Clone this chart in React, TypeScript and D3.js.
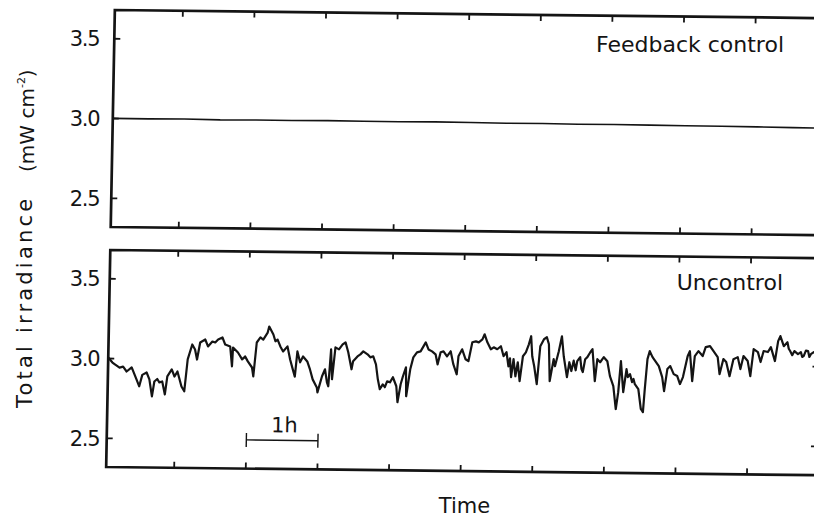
import React from "react";
import * as d3 from "d3";

// Canvas
const WIDTH = 814;
const HEIGHT = 517;

// Time axis (hours). The recording starts a little after an hour mark.
const RECORD_START_H = 0.05;
const FRAME_END_H = 9.97;
const hourTicks = [1, 2, 3, 4, 5, 6, 7, 8, 9];
const scaleBarHours: [number, number] = [2, 3];
const scaleBarValue = 2.5;
const scaleBarLabel = "1h";

// Irradiance axis (mW cm^-2)
const valueDomain: [number, number] = [2.32, 3.68];
const valueTicks = [2.5, 3.0, 3.5];
const valueTickLabels = ["2.5", "3.0", "3.5"];

// Panel titles
const panelTitles = ["Feedback control", "Uncontrol"];
const xTitle = "Time";

// Feedback-controlled irradiance, hours since start of record
const feedbackHours = [0, 0.5, 1, 1.5, 2, 2.5, 3, 3.5, 4, 4.5, 5, 5.5, 6, 6.5, 7, 7.5, 8, 8.5, 9, 9.5, 9.95];
const feedbackValues = [
  3.001, 3.0, 3.002, 2.999, 3.001, 3.0, 3.002, 3.001, 3.0, 3.002, 3.001,
  2.999, 3.0, 2.998, 2.999, 2.997, 2.996, 2.995, 2.994, 2.992, 2.991,
];

// Uncontrolled irradiance: [hours since start of record, mW cm^-2]
const uncontrolled: [number, number][] = [
  [0.0, 3.006], [0.06, 2.975], [0.1, 2.962], [0.16, 2.944], [0.21, 2.95], [0.26, 2.92], [0.33, 2.946], [0.4, 2.871],
  [0.44, 2.828], [0.48, 2.9], [0.54, 2.915], [0.58, 2.872], [0.62, 2.766], [0.65, 2.859],
  [0.69, 2.875], [0.72, 2.854], [0.76, 2.86], [0.8, 2.779], [0.83, 2.892], [0.89, 2.936], [0.93, 2.892],
  [0.97, 2.924], [1.03, 2.83], [1.07, 2.8], [1.11, 3.0], [1.17, 3.094], [1.21, 3.063],
  [1.24, 3.0], [1.28, 3.107], [1.35, 3.126], [1.39, 3.083], [1.45, 3.114], [1.49, 3.108],
  [1.53, 3.127], [1.59, 3.14], [1.63, 3.096], [1.7, 3.084], [1.73, 2.96], [1.74, 3.078],
  [1.81, 3.047], [1.87, 3.004], [1.91, 3.023], [1.95, 2.992], [2.01, 2.954], [2.03, 2.899],
  [2.07, 3.111], [2.12, 3.143], [2.16, 3.13], [2.22, 3.174], [2.24, 3.212], [2.3, 3.162],
  [2.33, 3.12], [2.36, 3.131], [2.4, 3.088], [2.44, 3.057], [2.5, 3.089], [2.54, 3.007], [2.58, 2.945],
  [2.61, 2.9], [2.64, 3.058], [2.68, 2.99], [2.72, 3.027], [2.78, 2.996], [2.82, 2.946],
  [2.86, 2.884], [2.92, 2.834], [2.93, 2.803], [2.99, 2.904], [3.03, 2.948], [3.06, 2.866],
  [3.08, 2.842], [3.11, 3.073], [3.13, 2.886], [3.17, 3.086], [3.22, 3.074], [3.27, 3.105],
  [3.31, 3.118], [3.35, 3.056], [3.4, 2.95], [3.42, 3.0], [3.48, 3.031], [3.52, 3.044],
  [3.56, 3.063], [3.62, 3.045], [3.66, 3.026], [3.7, 3.033], [3.74, 2.983], [3.77, 2.889],
  [3.8, 2.827], [3.84, 2.858], [3.87, 2.84], [3.9, 2.877], [3.94, 2.871], [3.98, 2.903], [4.03, 2.847],
  [4.05, 2.747], [4.09, 2.86], [4.12, 2.91], [4.16, 2.966], [4.17, 2.785], [4.22, 2.954],
  [4.26, 3.029], [4.31, 3.061], [4.36, 3.067], [4.43, 3.124], [4.47, 3.08], [4.52, 3.068],
  [4.57, 3.05], [4.6, 2.987], [4.64, 3.063], [4.68, 3.069], [4.73, 3.038], [4.78, 3.07],
  [4.82, 2.989], [4.87, 2.926], [4.89, 3.039], [4.94, 3.083], [4.99, 3.021], [5.03, 3.009],
  [5.08, 3.128], [5.13, 3.134], [5.17, 3.128], [5.22, 3.147], [5.25, 3.179], [5.29, 3.129],
  [5.34, 3.085], [5.38, 3.098], [5.43, 3.086], [5.48, 3.105], [5.52, 3.043], [5.56, 3.068],
  [5.59, 2.98], [5.61, 3.03], [5.63, 2.912], [5.66, 3.025], [5.69, 2.918], [5.72, 3.006], [5.75, 2.888],
  [5.79, 3.044], [5.83, 3.069], [5.87, 3.119], [5.9, 3.17], [5.92, 3.045], [5.95, 2.982],
  [5.99, 2.87], [6.03, 3.108], [6.08, 3.152], [6.12, 3.165], [6.15, 3.121], [6.17, 2.89],
  [6.22, 3.028], [6.24, 2.984], [6.29, 3.078], [6.33, 3.172], [6.36, 3.047], [6.41, 2.916],
  [6.44, 3.01], [6.47, 2.955], [6.5, 3.02], [6.53, 2.96], [6.55, 3.017], [6.59, 3.042], [6.61, 2.97],
  [6.63, 2.949], [6.66, 3.03], [6.69, 3.043],
  [6.73, 3.074], [6.76, 3.093], [6.8, 2.893], [6.83, 3.031], [6.87, 3.012], [6.92, 3.044],
  [6.97, 3.019], [7.01, 2.926], [7.06, 2.863], [7.1, 2.72], [7.13, 2.826], [7.16, 3.02],
  [7.2, 2.827], [7.24, 2.971], [7.26, 2.921], [7.29, 2.94], [7.32, 2.89], [7.34, 2.91], [7.36, 2.877], [7.41, 2.846],
  [7.45, 2.722], [7.48, 2.703], [7.5, 2.847], [7.53, 3.035], [7.56, 3.085], [7.6, 3.048],
  [7.65, 3.017], [7.69, 2.992], [7.74, 2.923], [7.77, 2.836], [7.81, 2.974], [7.85, 2.993],
  [7.9, 2.943], [7.95, 2.931], [7.99, 2.881], [8.03, 2.925], [8.09, 3.056], [8.12, 3.088],
  [8.16, 2.9], [8.19, 3.057], [8.24, 3.089], [8.3, 3.058], [8.34, 3.114], [8.4, 3.121],
  [8.45, 3.09], [8.51, 3.053], [8.54, 2.946], [8.59, 3.041], [8.63, 3.022], [8.68, 2.934],
  [8.73, 3.041], [8.79, 3.054], [8.83, 2.979], [8.87, 3.061], [8.93, 3.03], [8.97, 2.936],
  [9.01, 3.105], [9.07, 3.087], [9.11, 3.025], [9.15, 3.094], [9.21, 3.088], [9.25, 3.119],
  [9.31, 3.032], [9.35, 3.157], [9.38, 3.189], [9.43, 3.126], [9.48, 3.151], [9.5, 3.11], [9.52, 3.096],
  [9.55, 3.07], [9.58, 3.096], [9.63, 3.077], [9.67, 3.09], [9.69, 3.06], [9.71, 3.065], [9.74, 3.1], [9.77, 3.097],
  [9.79, 3.06], [9.81, 3.078], [9.85, 3.091], [9.9, 3.07], [9.95, 3.08],
];

const FONT = "'DejaVu Sans', sans-serif";
const INK = "#141414";

export default function App() {
  const x = d3.scaleLinear().domain([0, 10]).range([106.9, 822.9]);
  const panels = [
    { top: 10, bottom: 227 },
    { top: 250, bottom: 467 },
  ].map((p) => ({ ...p, y: d3.scaleLinear().domain(valueDomain).range([p.bottom, p.top]) }));

  const x0 = x(RECORD_START_H);
  const x1 = x(FRAME_END_H);

  const feedbackLine = d3
    .line<number>()
    .x((_, i) => x(feedbackHours[i] + RECORD_START_H))
    .y((d) => panels[0].y(d));

  const rawLine = d3
    .line<[number, number]>()
    .x((d) => x(d[0] + RECORD_START_H))
    .y((d) => panels[1].y(d[1]));

  // Slight skew of the plotted frame, as drawn on the chart recorder sheet
  const pivotX = 110;
  const pivotY = 240;
  const skewY = 0.0115;
  const skewX = -0.019;
  const skew = `matrix(1 ${skewY} ${skewX} 1 ${-skewX * pivotY} ${-skewY * pivotX})`;

  const sbY = panels[1].y(scaleBarValue);
  const sbX0 = x(scaleBarHours[0]);
  const sbX1 = x(scaleBarHours[1]);

  return (
    <svg
      width={WIDTH}
      height={HEIGHT}
      viewBox={`0 0 ${WIDTH} ${HEIGHT}`}
      style={{ position: "absolute", left: 0, top: 0, background: "#fff" }}
      fontFamily={FONT}
    >
      <rect width={WIDTH} height={HEIGHT} fill="#fff" />
      <g transform={skew}>
        {panels.map((p, pi) => (
          <g key={pi}>
            {/* frame */}
            <path
              d={`M${x1},${p.top}H${x0}V${p.bottom}H${x1}V${p.top}`}
              fill="none"
              stroke={INK}
              strokeWidth={2.7}
              strokeLinejoin="miter"
            />
            {/* hour ticks, inward on both edges */}
            {hourTicks.map((h) => (
              <g key={h} stroke={INK} strokeWidth={1.8}>
                <line x1={x(h)} x2={x(h)} y1={p.top} y2={p.top + 6} />
                <line x1={x(h)} x2={x(h)} y1={p.bottom} y2={p.bottom - 6} />
              </g>
            ))}
            {/* value ticks, inward on both sides */}
            {valueTicks.map((v) => (
              <g key={v} stroke={INK} strokeWidth={1.8}>
                <line x1={x0} x2={x0 + 6} y1={p.y(v)} y2={p.y(v)} />
                <line x1={x1} x2={x1 - 6} y1={p.y(v)} y2={p.y(v)} />
              </g>
            ))}
          </g>
        ))}

        <path
          d={feedbackLine(feedbackValues) ?? ""}
          fill="none"
          stroke={INK}
          strokeWidth={1.6}
        />
        <path
          d={rawLine(uncontrolled) ?? ""}
          fill="none"
          stroke={INK}
          strokeWidth={2.2}
          strokeLinejoin="round"
        />

        {/* one-hour scale bar */}
        <g stroke={INK} strokeWidth={1.4}>
          <line x1={sbX0} x2={sbX1} y1={sbY} y2={sbY} />
          <line x1={sbX0} x2={sbX0} y1={sbY - 7} y2={sbY + 7} />
          <line x1={sbX1} x2={sbX1} y1={sbY - 7} y2={sbY + 7} />
        </g>
        <text
          x={(sbX0 + sbX1) / 2 + 2}
          y={sbY - 8}
          textAnchor="middle"
          fontSize={21}
          fill={INK}
        >
          {scaleBarLabel}
        </text>
      </g>

      {/* value tick labels */}
      {panels.map((p, pi) =>
        valueTicks.map((v, i) => (
          <text
            key={`${pi}-${v}`}
            x={99.5}
            y={p.y(v)}
            dy="0.36em"
            textAnchor="end"
            fontSize={21}
            letterSpacing={-1.2}
            fill={INK}
          >
            {valueTickLabels[i]}
          </text>
        ))
      )}

      {/* panel titles */}
      <text x={784} y={52} textAnchor="end" fontSize={22} fill={INK}>
        {panelTitles[0]}
      </text>
      <text x={783} y={290} textAnchor="end" fontSize={22} fill={INK}>
        {panelTitles[1]}
      </text>

      {/* axis titles */}
      <text x={464.5} y={513} textAnchor="middle" fontSize={21} fill={INK}>
        {xTitle}
      </text>
      <text
        transform="translate(32,408) rotate(-90)"
        fontSize={21}
        letterSpacing={3.2}
        fill={INK}
      >
        Total irradiance
      </text>
      <text transform="translate(34,172) rotate(-90)" fontSize={20} fill={INK}>
        (mW cm
        <tspan fontSize={11} dy={-9}>
          -2
        </tspan>
        <tspan dy={9}>)</tspan>
      </text>
    </svg>
  );
}
